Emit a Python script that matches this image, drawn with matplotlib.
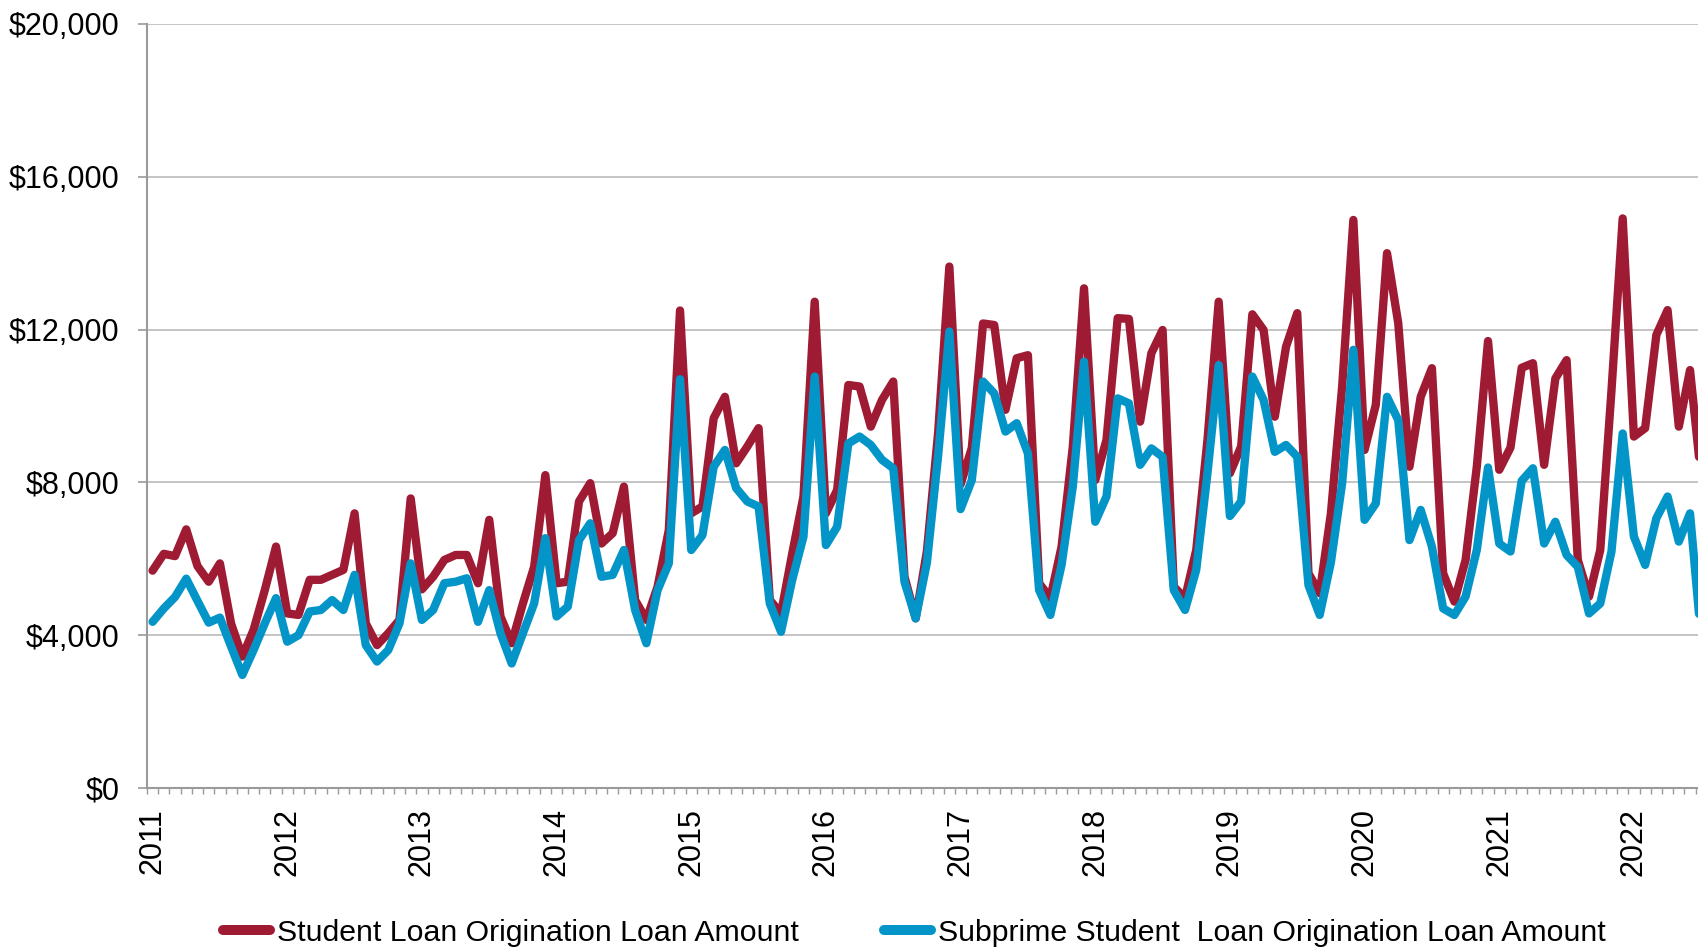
import numpy as np
import matplotlib
matplotlib.use("Agg")
import matplotlib.pyplot as plt
from matplotlib.lines import Line2D
from matplotlib.ticker import FixedLocator, FuncFormatter

# Monthly origination amounts, Jan 2011 onward
years = [str(y) for y in range(2011, 2023)]

student_loan = [
    5690, 6130, 6070, 6770, 5810, 5400, 5880, 4300, 3440, 4140, 5180, 6320,   # 2011
    4570, 4530, 5450, 5450, 5580, 5710, 7190, 4310, 3740, 4050, 4400, 7580,   # 2012
    5200, 5530, 5970, 6100, 6100, 5360, 7020, 4490, 3790, 4830, 5790, 8190,   # 2013
    5360, 5400, 7500, 7980, 6400, 6670, 7890, 4920, 4400, 5270, 6750, 12500,  # 2014
    7190, 7370, 9680, 10240, 8500, 8940, 9420, 4920, 4570, 6140, 7630, 12730, # 2015
    7190, 7800, 10550, 10510, 9460, 10160, 10640, 5530, 4440, 6200, 9300, 13650,  # 2016
    7950, 8900, 12160, 12120, 9900, 11250, 11330, 5360, 4970, 6320, 8930, 13080,  # 2017
    8060, 9110, 12300, 12280, 9590, 11380, 11990, 5270, 4970, 6230, 9110, 12730,  # 2018
    8240, 8940, 12400, 11990, 9720, 11550, 12430, 5620, 5100, 7190, 10500, 14870, # 2019
    8850, 10030, 14000, 12170, 8410, 10240, 10990, 5620, 4880, 5970, 8410, 11700, # 2020
    8330, 8910, 11000, 11120, 8460, 10720, 11200, 5970, 5010, 6230, 10400, 14910, # 2021
    9200, 9420, 11860, 12510, 9460, 10940, 8100,                                  # 2022
]

subprime_loan = [
    4350, 4700, 5000, 5480, 4900, 4330, 4460, 3700, 2960, 3610, 4310, 4970,   # 2011
    3830, 4000, 4620, 4660, 4920, 4660, 5580, 3740, 3310, 3610, 4310, 5880,   # 2012
    4400, 4660, 5360, 5400, 5490, 4350, 5180, 4050, 3260, 4050, 4830, 6540,   # 2013
    4490, 4750, 6490, 6930, 5530, 5580, 6230, 4660, 3790, 5180, 5880, 10700,  # 2014
    6230, 6620, 8410, 8850, 7850, 7500, 7370, 4830, 4090, 5450, 6580, 10770,  # 2015
    6360, 6840, 9020, 9200, 8980, 8590, 8370, 5400, 4440, 5900, 8700, 11950,  # 2016
    7300, 8060, 10640, 10330, 9330, 9550, 8760, 5180, 4530, 5840, 7890, 11160,  # 2017
    6970, 7630, 10200, 10070, 8460, 8890, 8670, 5180, 4660, 5710, 8240, 11070,  # 2018
    7120, 7500, 10770, 10160, 8800, 8980, 8670, 5310, 4530, 5910, 7980, 11470,  # 2019
    7020, 7450, 10240, 9630, 6490, 7280, 6320, 4700, 4530, 5010, 6230, 8390,    # 2020
    6400, 6190, 8040, 8370, 6400, 6970, 6100, 5790, 4570, 4830, 6190, 9280,     # 2021
    6580, 5840, 7060, 7630, 6450, 7190, 3900,                                   # 2022
]

series_names = [
    "Student Loan Origination Loan Amount",
    "Subprime Student  Loan Origination Loan Amount",
]
y_ticks = [0, 4000, 8000, 12000, 16000, 20000]

RED = "#9E1B33"
BLUE = "#0495C8"
GRID = "#C4C4C4"
AXIS = "#9A9A9A"

plt.rcParams["font.family"] = ["Liberation Sans", "DejaVu Sans"]

fig = plt.figure(figsize=(16.99, 9.48), dpi=100)
ax = fig.add_axes([0.0865, 0.16878, 0.9135, 0.80591])

months = np.arange(len(student_loan))
ax.plot(months, student_loan, color=RED, lw=6, solid_joinstyle="round",
        solid_capstyle="round", zorder=3)
ax.plot(months, subprime_loan, color=BLUE, lw=6, solid_joinstyle="round",
        solid_capstyle="round", zorder=4)

ax.set_ylim(0, 20000)
ax.set_xlim(-0.5, 137.8)

# y axis: dollar labels with gray outward ticks
ax.yaxis.set_major_locator(FixedLocator(y_ticks))
ax.yaxis.set_major_formatter(FuncFormatter(lambda v, _: f"${v:,.0f}"))
ax.tick_params(axis="y", which="major", length=6.3, width=1.2, color=AXIS,
               pad=13.5, labelsize=22, labelcolor="black")
ax.yaxis.grid(True, color=GRID, lw=1.4, zorder=0)
ax.set_axisbelow(True)

# x axis: a tick between every month, a year label on each January
ax.xaxis.set_major_locator(FixedLocator(np.arange(0, len(years) * 12, 12)))
ax.set_xticklabels(years, rotation=90, fontsize=22)
ax.tick_params(axis="x", which="major", length=0, pad=14.5)
ax.xaxis.set_minor_locator(FixedLocator(np.arange(-0.5, 138, 1)))
ax.tick_params(axis="x", which="minor", length=4.5, width=1.0, color=AXIS)

for side in ("top", "right"):
    ax.spines[side].set_visible(False)
for side in ("left", "bottom"):
    ax.spines[side].set_color(AXIS)
    ax.spines[side].set_linewidth(1.5)

# legend entries along the bottom edge
legend_kw = dict(loc="center left", frameon=False, fontsize=21.8, handlelength=1.55,
                 handletextpad=0.24, borderpad=0, borderaxespad=0)
for color, name, x0 in ((RED, series_names[0], 0.1313), (BLUE, series_names[1], 0.5203)):
    handle = Line2D([], [], color=color, lw=7.2, solid_capstyle="round")
    fig.legend(handles=[handle], labels=[name], bbox_to_anchor=(x0, 0.016), **legend_kw)

fig.savefig("out.png", dpi=100)
